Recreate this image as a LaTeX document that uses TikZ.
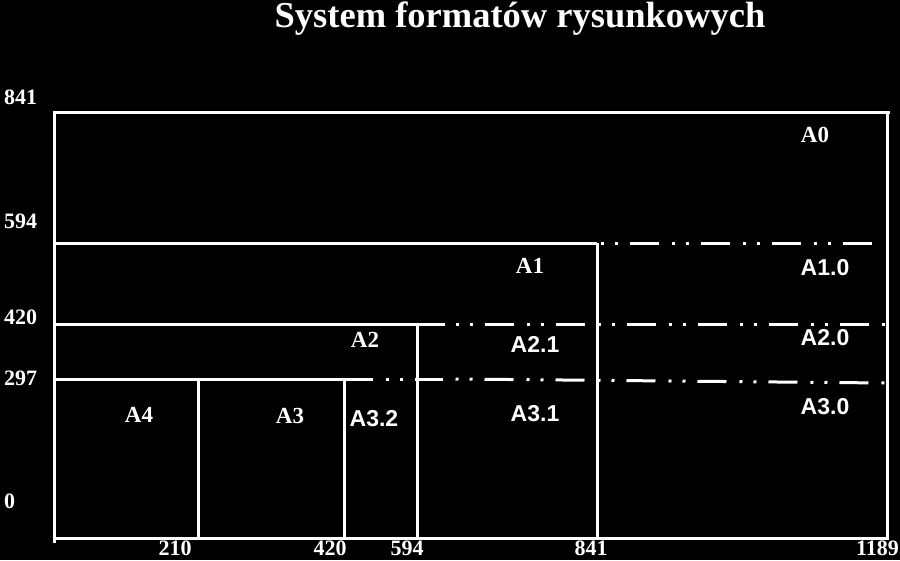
\documentclass[tikz,border=0pt]{standalone}
\usepackage{fontspec}
\setmainfont{Liberation Serif}
\setsansfont{Liberation Sans}
\begin{document}
\begin{tikzpicture}[x=1pt,y=-1pt,
  ln/.style={white, line width=3pt},
  dd/.style={white, line width=3pt, dash pattern=on 3pt off 11pt on 3pt off 12pt on 29pt off 13pt},
  serl/.style={text=white, inner sep=0pt, font=\bfseries\fontsize{23}{23}\selectfont},
  sanl/.style={text=white, inner sep=0pt, font=\sffamily\bfseries\fontsize{23}{23}\selectfont},
  axl/.style={text=white, inner sep=0pt, font=\bfseries\fontsize{22}{22}\selectfont}]
\fill[black] (0,0) rectangle (900,560);
\useasboundingbox (0,0) rectangle (900,560);
% title
\node[text=white, inner sep=0pt, anchor=base, font=\bfseries\fontsize{36.5}{36.5}\selectfont] (title) at (520,27) {System formatów rysunkowych};
% outer frame
\draw[ln] (54,543) -- (54,112) -- (890,112);
\draw[ln] (887,112) -- (887,538) -- (54,538);
% horizontal lines
\draw[ln] (54,243) -- (597,243);
\draw[dd] (600.5,243) -- (875,243);
\draw[ln] (54,324) -- (445,324);
\draw[dd] (455.5,324) -- (885,324);
\draw[ln] (54,379) -- (373,379);
\draw[dd] (385.5,379) -- (415,379);
\draw[ln] (417,379) -- (443,379);
\draw[dd] (455.5,379) -- (885,383);
% verticals
\draw[ln] (198,379) -- (198,538);
\draw[ln] (344,379) -- (344,538);
\draw[ln] (417,324) -- (417,538);
\draw[ln] (597,243) -- (597,538);
% format labels
\node[serl] (a0) at (815,135) {A0};
\node[serl] (a1) at (530,266) {A1};
\node[serl] (a2) at (365,340) {A2};
\node[serl] (a3) at (290,416) {A3};
\node[serl] (a4) at (139,415) {A4};
\node[sanl] (a10) at (825,268) {A1.0};
\node[sanl] (a20) at (825,338) {A2.0};
\node[sanl] (a30) at (825,407) {A3.0};
\node[sanl] (a21) at (535,344) {A2.1};
\node[sanl] (a31) at (535,414) {A3.1};
\node[sanl] (a32) at (374,419) {A3.2};
% y axis labels
\node[axl, anchor=west] (y841) at (4,97) {841};
\node[axl, anchor=west] (y594) at (4,221) {594};
\node[axl, anchor=west] (y420) at (4,317) {420};
\node[axl, anchor=west] (y297) at (4,378) {297};
\node[axl, anchor=west] (y0) at (4,501) {0};
% x axis labels
\node[axl] (x210) at (175,548) {210};
\node[axl] (x420) at (330,548) {420};
\node[axl] (x594) at (407,548) {594};
\node[axl] (x841) at (591,548) {841};
\node[axl, anchor=east] (x1189) at (899,548) {1189};
\end{tikzpicture}
\end{document}
